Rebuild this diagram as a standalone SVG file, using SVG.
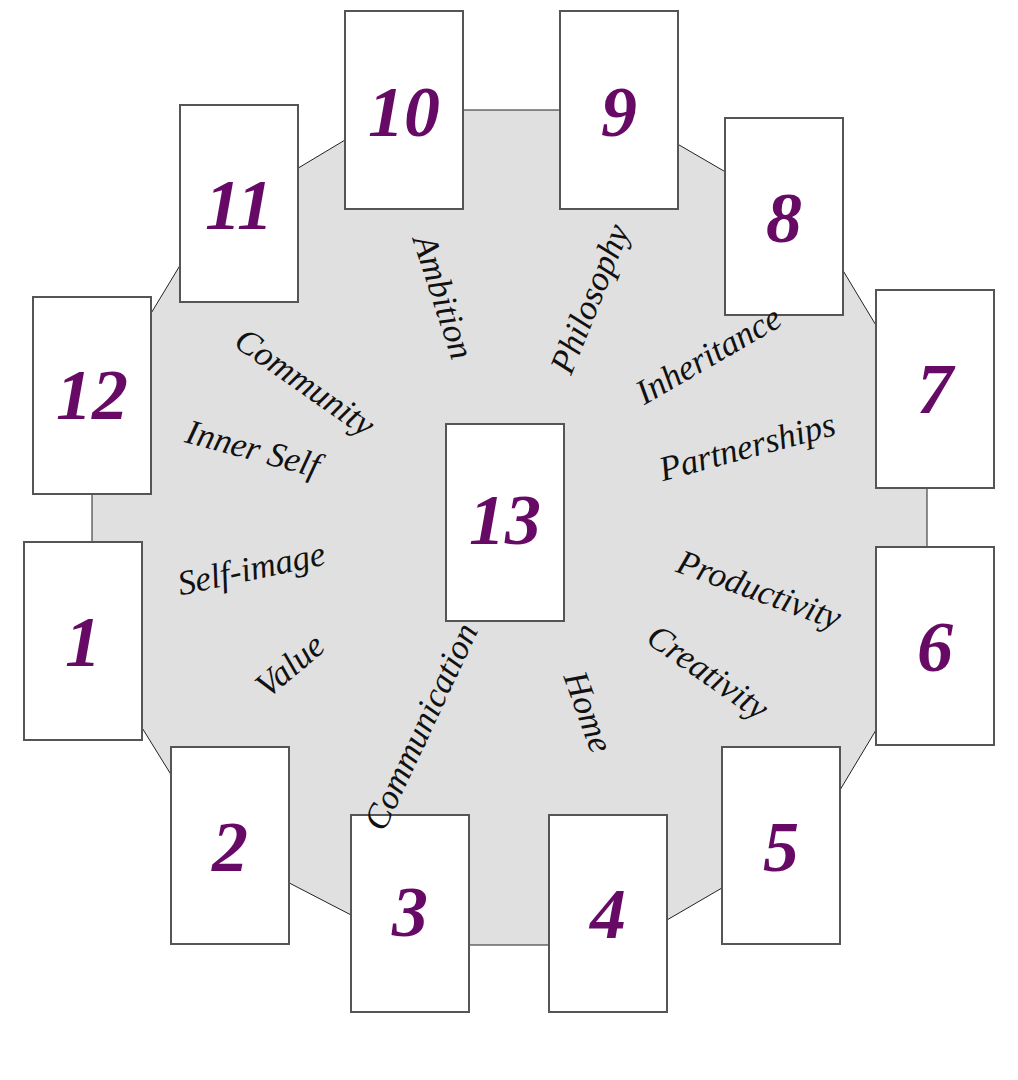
<svg xmlns="http://www.w3.org/2000/svg" width="1018" height="1080" viewBox="0 0 1018 1080">
<style>
.card rect{fill:#fff;stroke:#555;stroke-width:2}
.card text{font-family:"Liberation Serif",serif;font-style:italic;font-weight:bold;font-size:72px;fill:#660a66;text-anchor:middle}
.lbl{font-family:"Liberation Serif",serif;font-style:italic;font-size:35px;fill:#111;text-anchor:middle;dominant-baseline:middle}
</style>
<rect width="1018" height="1080" fill="#fff"/>
<g id="connectors">
<polygon points="395,110 619,110 815,224 927,410 927,645 813,835 624,945 409,945 214,844 92,647 92,411 205,224" fill="#e0e0e0" stroke="#222" stroke-width="1"/>
</g>
<g id="c10" class="card"><rect x="345" y="11" width="118" height="198"/><text x="404" y="136">10</text></g>
<g id="c9" class="card"><rect x="560" y="11" width="118" height="198"/><text x="619" y="136">9</text></g>
<g id="c11" class="card"><rect x="180" y="105" width="118" height="197"/><text x="239" y="229">11</text></g>
<g id="c8" class="card"><rect x="725" y="118" width="118" height="197"/><text x="784" y="242">8</text></g>
<g id="c12" class="card"><rect x="33" y="297" width="118" height="197"/><text x="92" y="419">12</text></g>
<g id="c7" class="card"><rect x="876" y="290" width="118" height="198"/><text x="935" y="413">7</text></g>
<g id="c13" class="card"><rect x="446" y="424" width="118" height="197"/><text x="505" y="544">13</text></g>
<g id="c1" class="card"><rect x="24" y="542" width="118" height="198"/><text x="83" y="666">1</text></g>
<g id="c6" class="card"><rect x="876" y="547" width="118" height="198"/><text x="935" y="671">6</text></g>
<g id="c2" class="card"><rect x="171" y="747" width="118" height="197"/><text x="230" y="871">2</text></g>
<g id="c5" class="card"><rect x="722" y="747" width="118" height="197"/><text x="781" y="871">5</text></g>
<g id="c3" class="card"><rect x="351" y="815" width="118" height="197"/><text x="410" y="936">3</text></g>
<g id="c4" class="card"><rect x="549" y="815" width="118" height="197"/><text x="608" y="938">4</text></g>
<g id="labels">
<text class="lbl" transform="translate(440,298) rotate(72)">Ambition</text>
<text class="lbl" transform="translate(593,300) rotate(-68)">Philosophy</text>
<text class="lbl" transform="translate(303,385) rotate(35)">Community</text>
<text class="lbl" transform="translate(252,452) rotate(15)">Inner Self</text>
<text class="lbl" transform="translate(252,572) rotate(-12)">Self-image</text>
<text class="lbl" transform="translate(292,668) rotate(-40)">Value</text>
<text class="lbl" transform="translate(424,728) rotate(-65)">Communication</text>
<text class="lbl" transform="translate(585,713) rotate(70)">Home</text>
<text class="lbl" transform="translate(706,675) rotate(35)">Creativity</text>
<text class="lbl" transform="translate(758,593) rotate(20)">Productivity</text>
<text class="lbl" transform="translate(748,450) rotate(-15)">Partnerships</text>
<text class="lbl" transform="translate(710,358) rotate(-30)">Inheritance</text>
</g>
</svg>
